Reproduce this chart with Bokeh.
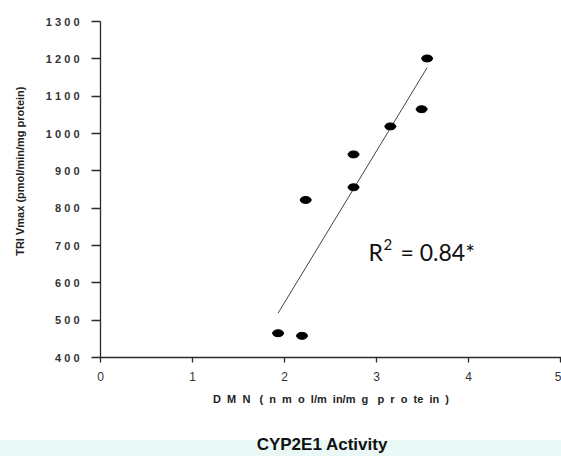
import numpy as np
from bokeh.plotting import figure
from bokeh.models import Label, FixedTicker, Div, ColumnDataSource, Range1d
from bokeh.layouts import column
from bokeh.embed import file_html
from bokeh.resources import INLINE

# data
dmn = [1.93, 2.19, 2.23, 2.75, 2.75, 3.15, 3.49, 3.55]
tri_vmax = [465, 458, 822, 856, 944, 1019, 1065, 1201]

y_ticks = [400, 500, 600, 700, 800, 900, 1000, 1100, 1200, 1300]
y_tick_labels = ["4 0 0", "5 0 0", "6 0 0", "7 0 0", "8 0 0", "9 0 0",
                 "1 0 0 0", "1 1 0 0", "1 2 0 0", "1 3 0 0"]
x_ticks = [0, 1, 2, 3, 4, 5]
x_tick_labels = ["0", "1", "2", "3", "4", "5"]

NB = "\u00a0"
SEP = NB + " "
WORD = NB + NB + " "
x_title = WORD.join([SEP.join(["D", "M", "N"]),
                     SEP.join(["(", "n", "m", "o", "l/m", "in/m", "g"]),
                     SEP.join(["p", "r", "o", "te", "in", ")"])])
y_title = NB * 12 + "TRI Vmax (pmol/min/mg protein)"
caption = "CYP2E1 Activity"
r2_text = "= 0.84*"

AX = "#2b2b2b"
LBL = "#333333"

p = figure(width=561, height=432, x_range=Range1d(0, 5.01), y_range=Range1d(400, 1300),
           output_backend="svg", toolbar_location=None,
           min_border_left=100, min_border_right=0, min_border_top=21, min_border_bottom=75)
p.grid.visible = False
p.outline_line_color = None

# axes
p.xaxis.ticker = FixedTicker(ticks=x_ticks)
p.xaxis.major_label_overrides = {t: l for t, l in zip(x_ticks, x_tick_labels)}
p.yaxis.ticker = FixedTicker(ticks=y_ticks)
p.yaxis.major_label_overrides = {t: l for t, l in zip(y_ticks, y_tick_labels)}
for ax in (p.xaxis, p.yaxis):
    ax.axis_line_color = AX
    ax.axis_line_width = 1.3
    ax.major_tick_line_color = AX
    ax.major_tick_line_width = 1.3
    ax.minor_tick_line_color = None
    ax.major_tick_in = 0
    ax.axis_label_text_font = "Liberation Sans"
    ax.axis_label_text_font_style = "bold"
    ax.axis_label_text_font_size = "11px"
    ax.axis_label_text_color = "#222222"
    ax.major_label_text_font = "Liberation Sans"
    ax.major_label_text_color = LBL

p.xaxis.major_tick_out = 5
p.xaxis.major_label_standoff = 9
p.xaxis.major_label_text_font_size = "12px"
p.xaxis.axis_label = x_title
p.xaxis.axis_label_standoff = 9

p.yaxis.major_tick_out = 9
p.yaxis.major_label_standoff = 12
p.yaxis.major_label_text_font_size = "11px"
p.yaxis.major_label_text_font_style = "bold"
p.yaxis.axis_label = y_title
p.yaxis.axis_label_standoff = 17

# regression line from the data
slope, intercept = np.polyfit(dmn, tri_vmax, 1)
lx = [min(dmn), max(dmn)]
ly = [slope * v + intercept for v in lx]
p.line(lx, ly, line_color="#444444", line_width=1)

src = ColumnDataSource(dict(x=dmn, y=tri_vmax))
p.ellipse(x="x", y="y", width=11, height=7, width_units="screen", height_units="screen",
          fill_color="black", line_color="black", source=src)

# R^2 annotation
p.add_layout(Label(x=2.913, y=683, text="R", text_font="Lato", text_font_size="23px",
                   text_color="#111111", text_baseline="alphabetic"))
p.add_layout(Label(x=2.913, y=683, x_offset=15, y_offset=7, text="2", text_font="Lato",
                   text_font_size="15px", text_color="#111111", text_baseline="alphabetic"))
p.add_layout(Label(x=3.26, y=683, text=r2_text, text_font="Lato", text_font_size="23px",
                   text_color="#111111", text_baseline="alphabetic"))

band = Div(text=(
    '<div style="position:relative;width:561px;height:24px;'
    'background:linear-gradient(#ffffff 0px,#ffffff 8px,#eaf8f6 8px,#eaf8f6 24px);">'
    '<span style="position:absolute;left:322px;top:3px;transform:translateX(-50%);'
    'font:bold 17px \'Liberation Sans\';color:#111111;line-height:20px;white-space:nowrap;">'
    + caption + '</span></div>'), width=561, height=24, margin=0)

layout = column(p, band, spacing=0)
open("out.html", "w").write(file_html(layout, INLINE))
